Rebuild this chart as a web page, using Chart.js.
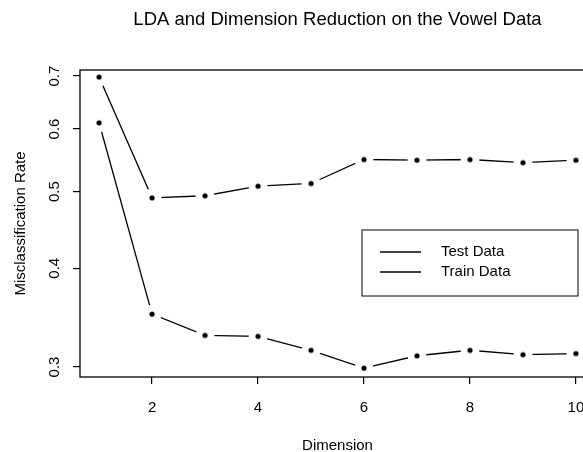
<!DOCTYPE html>
<html>
<head>
<meta charset="utf-8">
<script src="https://cdn.jsdelivr.net/npm/chart.js@4/dist/chart.umd.min.js"></script>
<style>
  html, body { margin: 0; padding: 0; background: #fff; overflow: hidden; }
  #wrap { width: 600px; height: 452px; }
</style>
</head>
<body>
<div id="wrap"><canvas id="my-chart"></canvas></div>
<script>
// values
const dimensions = [1, 2, 3, 4, 5, 6, 7, 8, 9, 10];
const testRates = [0.698, 0.491, 0.494, 0.508, 0.512, 0.549, 0.548, 0.549, 0.544, 0.548];
const trainRates = [0.611, 0.350, 0.329, 0.328, 0.315, 0.299, 0.310, 0.315, 0.311, 0.312];
const xTicks = [2, 4, 6, 8, 10];
const yTicks = [0.3, 0.4, 0.5, 0.6, 0.7];
const seriesNames = ['Test Data', 'Train Data'];

const FONT = '"Liberation Sans", Arial, Helvetica, sans-serif';

// R style "b" point: a dot with a white gap round it so the lines stop short
function makeDot() {
  const c = document.createElement('canvas');
  c.width = 20; c.height = 20;
  const g = c.getContext('2d');
  g.fillStyle = '#fff';
  g.beginPath(); g.arc(10, 10, 9.5, 0, Math.PI * 2); g.fill();
  g.fillStyle = '#000';
  g.beginPath(); g.arc(10, 10, 2.6, 0, Math.PI * 2); g.fill();
  return c;
}
const dot = makeDot();

function toPoints(rates) {
  return dimensions.map((d, i) => ({ x: d, y: rates[i] }));
}

// the lines (higher order, so drawn first)
function lineSet(name, rates) {
  return {
    label: name,
    data: toPoints(rates),
    borderColor: '#000',
    borderWidth: 1.3,
    pointRadius: 0,
    order: 2
  };
}
// the dots with their white gap, drawn over the lines
function dotSet(name, rates) {
  return {
    label: name,
    data: toPoints(rates),
    showLine: false,
    pointStyle: dot,
    pointRadius: 3,
    order: 1
  };
}

// box round the plot and the legend inside it
const boxAndLegend = {
  id: 'boxAndLegend',
  afterDraw(chart) {
    const ctx = chart.ctx;
    const a = chart.chartArea;
    ctx.save();
    ctx.strokeStyle = '#000';
    ctx.lineWidth = 1.3;
    ctx.strokeRect(a.left, a.top, a.right - a.left, a.bottom - a.top);

    const lx = 362, ly = 230, lw = 216, lh = 66;
    ctx.lineWidth = 1;
    ctx.fillStyle = '#fff';
    ctx.fillRect(lx, ly, lw, lh);
    ctx.strokeRect(lx, ly, lw, lh);
    ctx.font = '15px ' + FONT;
    ctx.fillStyle = '#000';
    ctx.textBaseline = 'middle';
    seriesNames.forEach((name, i) => {
      const y = 252 + i * 20;
      ctx.lineWidth = 1.3;
      ctx.beginPath(); ctx.moveTo(380, y); ctx.lineTo(421, y); ctx.stroke();
      ctx.fillText(name, 441, y);
    });
    ctx.restore();
  }
};

const ctx = document.getElementById('my-chart').getContext('2d');
const chart = new Chart(ctx, {
  type: 'line',
  data: {
    datasets: [
      lineSet(seriesNames[0], testRates),
      lineSet(seriesNames[1], trainRates),
      dotSet(seriesNames[0], testRates),
      dotSet(seriesNames[1], trainRates)
    ]
  },
  options: {
    responsive: true,
    maintainAspectRatio: false,
    animation: false,
    layout: { padding: 0 },
    plugins: {
      legend: { display: false },
      tooltip: { enabled: false },
      title: {
        display: true,
        fullSize: false,
        text: 'LDA and Dimension Reduction on the Vowel Data',
        color: '#000',
        font: { family: FONT, size: 18.5, weight: 'normal', lineHeight: 1.2 },
        padding: { top: 9, bottom: 38.8 }
      }
    },
    scales: {
      x: {
        type: 'linear',
        min: 0.64,
        max: 10.36,
        afterFit: s => { s.height = 75; },
        afterBuildTicks: s => { s.ticks = xTicks.map(v => ({ value: v })); },
        grid: { display: true, drawOnChartArea: false, drawTicks: true, tickLength: 7, color: '#000', lineWidth: 1.2 },
        border: { display: false },
        ticks: {
          color: '#000',
          font: { family: FONT, size: 15 },
          padding: 15,
          maxRotation: 0,
          callback: v => String(v)
        },
        title: {
          display: true,
          text: 'Dimension',
          color: '#000',
          font: { family: FONT, size: 15, lineHeight: 0.8 },
          padding: { top: 0, bottom: 0 }
        }
      },
      y: {
        type: 'logarithmic',
        min: 0.2914,
        max: 0.7125,
        afterFit: s => { s.width = 80; },
        afterBuildTicks: s => { s.ticks = yTicks.map(v => ({ value: v })); },
        grid: { display: true, drawOnChartArea: false, drawTicks: true, tickLength: 7, color: '#000', lineWidth: 1.2 },
        border: { display: false },
        ticks: {
          color: '#000',
          font: { family: FONT, size: 15 },
          padding: 8,
          minRotation: 90,
          maxRotation: 90,
          crossAlign: 'center',
          callback: v => Number(v).toFixed(1)
        },
        title: {
          display: true,
          text: 'Misclassification Rate',
          color: '#000',
          font: { family: FONT, size: 15, lineHeight: 1.2 },
          padding: { top: 12 }
        }
      }
    }
  },
  plugins: [boxAndLegend]
});
</script>
</body>
</html>
